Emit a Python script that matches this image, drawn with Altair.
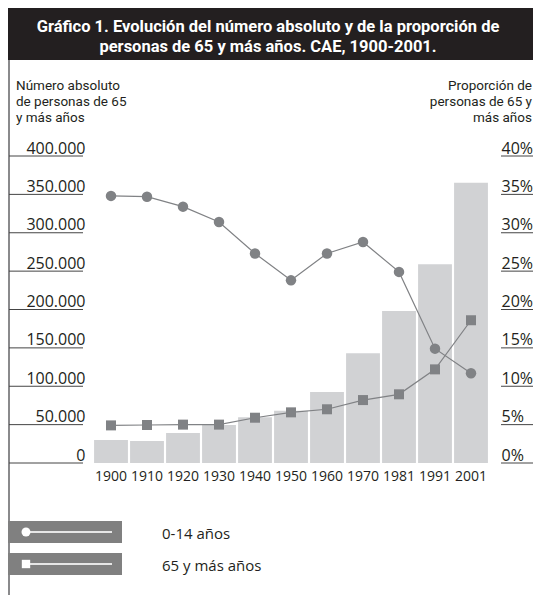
import altair as alt
import pandas as pd

# ---------------- data ----------------
years = ["1900", "1910", "1920", "1930", "1940", "1950", "1960", "1970", "1981", "1991", "2001"]
pop65 = [30000, 28700, 39100, 49500, 59500, 68000, 92500, 143000, 198000, 259000, 365000]
pct_014 = [34.8, 34.7, 33.4, 31.4, 27.3, 23.8, 27.3, 28.8, 24.9, 14.9, 11.7]
pct_65 = [4.9, 4.95, 5.0, 5.0, 5.9, 6.6, 7.0, 8.2, 8.95, 12.2, 18.6]
series = ["0-14 años", "65 y más años"]
left_ticks = [0, 50000, 100000, 150000, 200000, 250000, 300000, 350000, 400000]
right_ticks = [0, 5, 10, 15, 20, 25, 30, 35, 40]
title_lines = ["Gráfico 1. Evolución del número absoluto y de la proporción de",
               "personas de 65 y más años. CAE, 1900-2001."]
left_title = ["Número absoluto", "de personas de 65", "y más años"]
right_title = ["Proporción de", "personas de 65 y", "más años"]

FONT = "Open Sans"
TFONT = "Roboto"
BAR = "#d1d2d4"
MARK = "#808285"
DARK = "#231f20"
GRAYLINE = "#8a8a8c"

bars_df = pd.DataFrame({"year": years, "pop": pop65})
lines_df = pd.DataFrame({
    "year": years + years,
    "pct": pct_014 + pct_65,
    "serie": [series[0]] * len(years) + [series[1]] * len(years),
})
one = pd.DataFrame({"a": [0]})

yL = alt.Scale(domain=[0, 400000], nice=False, zero=True)
yR = alt.Scale(domain=[0, 40], nice=False, zero=True)

x_enc = alt.X("year:N", sort=years,
              scale=alt.Scale(paddingInner=0.06, paddingOuter=0.03),
              axis=alt.Axis(title=None, domain=False, ticks=False, labelAngle=0,
                            labelFont=FONT, labelFontSize=14, labelColor=DARK,
                            labelPadding=6))
x_plain = alt.X("year:N", sort=years)

# ---------------- decorations ----------------
title_bar = alt.Chart(one).mark_rect(color=DARK).encode(
    x=alt.value(-85), x2=alt.value(440), y=alt.value(-150), y2=alt.value(-96))
title_marks = [
    alt.Chart(one).mark_text(
        font=TFONT, fontSize=16.5, fontWeight="bold", color="white", align="center",
        baseline="alphabetic").encode(
        x=alt.value(175), y=alt.value(-124 + 19.5 * k), text=alt.value(title_lines[k]))
    for k in range(2)
]
border = alt.Chart(one).mark_rule(color=GRAYLINE, strokeWidth=2).encode(
    x=alt.value(-84), y=alt.value(-96), y2=alt.value(440))

side_titles = []
for k in range(3):
    side_titles.append(alt.Chart(one).mark_text(
        font=TFONT, fontSize=13.5, color=DARK, align="left", baseline="alphabetic").encode(
        x=alt.value(-77), y=alt.value(-66 + 16 * k), text=alt.value(left_title[k])))
    side_titles.append(alt.Chart(one).mark_text(
        font=TFONT, fontSize=13.5, color=DARK, align="right", baseline="alphabetic").encode(
        x=alt.value(439), y=alt.value(-66 + 16 * k), text=alt.value(right_title[k])))

# ---------------- data marks ----------------
bars = alt.Chart(bars_df).mark_bar(color=BAR).encode(
    x=x_enc,
    y=alt.Y("pop:Q", scale=yL,
            axis=alt.Axis(orient="left", title=None, values=left_ticks, domain=False,
                          ticks=False, tickSize=0, grid=False, labelPadding=8,
                          labelAlign="right", labelBaseline="alphabetic", labelOffset=-3,
                          labelFont=FONT, labelFontSize=16, labelColor=DARK,
                          labelExpr="datum.value == 0 ? '0' : format(datum.value / 1000, 'd') + '.000'")))

lrules = alt.Chart(pd.DataFrame({"v": left_ticks})).mark_rule(color="#444", strokeWidth=1).encode(
    y=alt.Y("v:Q", scale=yL, axis=None), x=alt.value(-84), x2=alt.value(-10))
rrules = alt.Chart(pd.DataFrame({"v": right_ticks})).mark_rule(color="#444", strokeWidth=1).encode(
    y=alt.Y("v:Q", scale=yR, axis=None), x=alt.value(408), x2=alt.value(440))

line = alt.Chart(lines_df).mark_line(color=MARK, strokeWidth=1.2).encode(
    x=x_plain,
    y=alt.Y("pct:Q", scale=yR,
            axis=alt.Axis(orient="right", title=None, values=right_ticks, domain=False,
                          ticks=False, tickSize=0, grid=False, labelPadding=12,
                          labelAlign="left", labelBaseline="alphabetic", labelOffset=-3,
                          labelFont=FONT, labelFontSize=16, labelColor=DARK,
                          labelExpr="datum.value + '%'")),
    detail="serie:N")

circles = alt.Chart(lines_df).transform_filter(
    alt.datum.serie == series[0]).mark_point(
    shape="circle", filled=True, size=110, color=MARK, opacity=1).encode(
    x=x_plain, y=alt.Y("pct:Q", scale=yR, axis=None))
squares = alt.Chart(lines_df).transform_filter(
    alt.datum.serie == series[1]).mark_point(
    shape="square", filled=True, size=100, color=MARK, opacity=1).encode(
    x=x_plain, y=alt.Y("pct:Q", scale=yR, axis=None))

# ---------------- legend (manual) ----------------
leg = []
for i, (yy, shape) in enumerate([(376, "circle"), (408, "square")]):
    leg.append(alt.Chart(one).mark_rect(color="#808080").encode(
        x=alt.value(-85), x2=alt.value(29), y=alt.value(yy - 11), y2=alt.value(yy + 11)))
    leg.append(alt.Chart(one).mark_rule(color="#e6e6e6", strokeWidth=2).encode(
        x=alt.value(-68), x2=alt.value(19), y=alt.value(yy)))
    leg.append(alt.Chart(one).mark_point(shape=shape, filled=True, size=80 if shape == "circle" else 70,
                                         color="white", opacity=1).encode(
        x=alt.value(-67), y=alt.value(yy)))
    leg.append(alt.Chart(one).mark_text(font=FONT, fontSize=15, color=DARK, align="left",
                                        baseline="middle").encode(
        x=alt.value(69), y=alt.value(yy + 2), text=alt.value(series[i])))

chart = alt.layer(
    title_bar, *title_marks, border, *side_titles,
    bars, lrules, rrules, line, circles, squares, *leg
).resolve_scale(y="independent").properties(
    width=396, height=307,
    autosize=alt.AutoSizeParams(type="none"),
    padding={"left": 85, "top": 148, "right": 44, "bottom": 132},
    background="white",
).configure_view(stroke=None)

chart.save("out.html", embed_options={"renderer": "svg", "actions": False})
